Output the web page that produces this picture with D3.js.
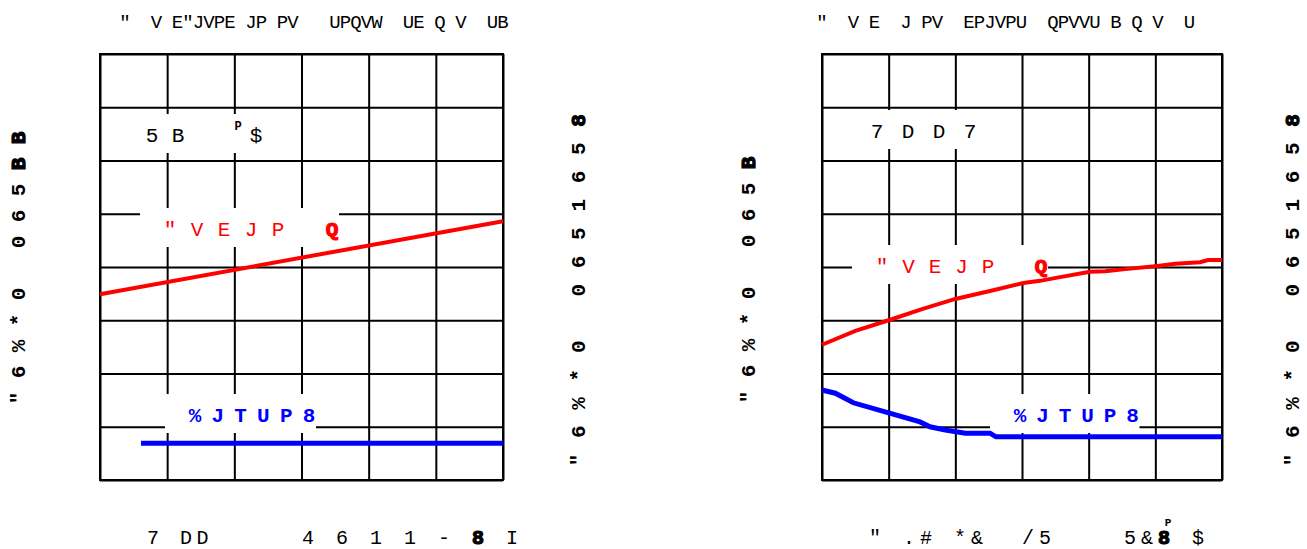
<!DOCTYPE html>
<html><head><meta charset="utf-8">
<script src="https://cdn.jsdelivr.net/npm/d3@7"></script>
<style>body{margin:0;background:#fff;overflow:hidden} svg{display:block}</style>
</head><body>
<script>
// ---------- data ----------
const xTicks = [0, 1, 2, 3, 4, 5, 6];
const yTicks = [0, 1, 2, 3, 4, 5, 6, 7, 8];

const leftAudioX = [0, 6];
const leftAudioY = [3.49, 4.86];
const leftDistX = [0.61, 6];
const leftDistY = [0.69, 0.69];

const rightAudioX = [0, 0.5, 1.0, 1.5, 2.0, 2.52, 3.02, 3.27, 3.57, 4.02, 4.25, 4.55, 5.03, 5.3, 5.67, 5.79, 6];
const rightAudioY = [2.54, 2.80, 3.00, 3.21, 3.40, 3.55, 3.70, 3.74, 3.81, 3.91, 3.92, 3.96, 4.02, 4.06, 4.09, 4.13, 4.13];
const rightDistX = [0, 0.2, 0.47, 1.0, 1.47, 1.62, 1.85, 2.15, 2.52, 2.61, 6];
const rightDistY = [1.69, 1.63, 1.45, 1.26, 1.09, 1.0, 0.94, 0.88, 0.88, 0.81, 0.81];

// text, as rendered glyphs (one entry per character cell; "!" marks a heavy glyph)
const leftTitle  = '"  V E"JVPE JP PV   UPQVW  UE Q V  UB'.split('');
const rightTitle = '"  V E  J PV  EPJVPU  QPVVU B Q V  U'.split('');
const leftXLabelA = ['7', '', 'D', 'D'];
const leftXLabelB = ['4', '', '6', '', '1', '', '1', '', '-', '', '!8', '', 'I'];
const rightXLabel = ['"', '', '.', '#', '', '*', '&', '', '', '/', '5', '', '', '', '', '5', '&', '!8', '', '$'];
const yLabelOuterL = ['"', '6', '%', '*', '0', '', '0', '6', '5', '!B', '!B'];
const yLabelOuterR = ['"', '6', '%', '*', '0', '', '0', '6', '5', '!B'];
const yLabelInner = ['"', '6', '%', '*', '0', '', '0', '6', '5', '1', '6', '5', '!8'];
const condLeft = ['5', 'B', '', '', '$'];
const condRight = ['7', 'D', 'D', '7'];
const audioLabel = ['"', 'V', 'E', 'J', 'P', '', '!Q'];
const distLabel = ['%', 'J', 'T', 'U', 'P', '8'];

// ---------- drawing ----------
const W = 1307, H = 549;
const svg = d3.select('body').append('svg').attr('width', W).attr('height', H);
const FONT = '"Liberation Mono", "DejaVu Sans Mono", monospace';

function cells(g, arr, x0, y, step, opts = {}) {
  arr.forEach((s, i) => {
    if (!s || s === ' ') return;
    const heavy = s[0] === '!';
    const ch = heavy ? s.slice(1) : s;
    g.append('text').attr('x', x0 + i * step).attr('y', y)
      .attr('text-anchor', 'middle')
      .attr('font-family', FONT)
      .attr('font-size', opts.size || 20)
      .attr('font-weight', heavy ? 'bold' : (opts.weight || 'normal'))
      .attr('fill', opts.color || '#000')
      .attr('stroke', heavy ? (opts.color || '#000') : 'none')
      .attr('stroke-width', heavy ? 1.2 : 0)
      .text(ch);
  });
}
function vcells(arr, cx, y0, step) {
  const g = svg.append('g').attr('transform', `translate(${cx + 7},${y0}) rotate(-90)`);
  cells(g, arr, 0, 0, step, {size: 21, weight: 'bold'});
}
function labelBox(g, arr, x0, base, step) {
  const n = arr.length;
  g.append('rect').attr('x', x0 - 30).attr('y', base - 28)
    .attr('width', (n - 1) * step + 37).attr('height', 39).attr('fill', '#fff');
}

function panel(px0, px1, audioX, audioY, distX, distY, cfg) {
  const x = d3.scaleLinear().domain([0, 6]).range([px0, px1]);
  const y = d3.scaleLinear().domain([0, 8]).range([480, 54]);
  const g = svg.append('g');
  const gx = g.append('g').attr('transform', 'translate(0,480)')
    .call(d3.axisBottom(x).tickValues(xTicks).tickSize(-(480 - 54)).tickFormat(''));
  const gy = g.append('g').attr('transform', `translate(${px0},0)`)
    .call(d3.axisLeft(y).tickValues(yTicks).tickSize(-(px1 - px0)).tickFormat(''));
  [gx, gy].forEach(a => {
    a.selectAll('line').attr('stroke', '#000').attr('stroke-width', 2);
    a.select('.domain').remove();
  });
  g.append('rect').attr('x', px0).attr('y', 54).attr('width', px1 - px0).attr('height', 426)
    .attr('fill', 'none').attr('stroke', '#000').attr('stroke-width', 2);

  labelBox(g, cfg.cond, cfg.condX, cfg.condY, cfg.condStep);
  labelBox(g, audioLabel, cfg.audioX, cfg.audioY, cfg.audioStep);
  labelBox(g, distLabel, cfg.distX, cfg.distY, cfg.distStep);

  const line = d3.line().x(d => x(d[0])).y(d => y(d[1]));
  g.append('path').datum(d3.zip(audioX, audioY)).attr('d', line)
    .attr('fill', 'none').attr('stroke', '#ff0000').attr('stroke-width', 4);
  g.append('path').datum(d3.zip(distX, distY)).attr('d', line)
    .attr('fill', 'none').attr('stroke', '#0000ff').attr('stroke-width', 5);

  cells(g, cfg.cond, cfg.condX, cfg.condY, cfg.condStep, {size: 21});
  cells(g, audioLabel, cfg.audioX, cfg.audioY, cfg.audioStep, {size: 21, color: '#ff0000'});
  cells(g, distLabel, cfg.distX, cfg.distY, cfg.distStep, {size: 21, color: '#0000ff', weight: 'bold'});
}

panel(100, 503, leftAudioX, leftAudioY, leftDistX, leftDistY, {
  cond: condLeft, condX: 152, condY: 142, condStep: 26,
  audioX: 170, audioY: 236, audioStep: 27,
  distX: 195, distY: 422, distStep: 22.8
});
panel(822, 1222, rightAudioX, rightAudioY, rightDistX, rightDistY, {
  cond: condRight, condX: 877, condY: 138, condStep: 31,
  audioX: 882, audioY: 273, audioStep: 26.5,
  distX: 1020, distY: 422, distStep: 22.5
});
// superscript in left condition label
svg.append('text').attr('x', 238).attr('y', 130).attr('text-anchor', 'middle')
  .attr('font-family', FONT).attr('font-size', 12).attr('font-weight', 'bold').text('P');

// titles
cells(svg, leftTitle, 125, 28, 10.5, {size: 19});
cells(svg, rightTitle, 822, 28, 10.5, {size: 19});

// x labels
cells(svg, leftXLabelA, 153, 544, 16.5, {size: 20});
cells(svg, leftXLabelB, 308, 544, 17, {size: 20});
cells(svg, rightXLabel, 875, 544, 17, {size: 20});
svg.append('text').attr('x', 1168).attr('y', 526).attr('text-anchor', 'middle')
  .attr('font-family', FONT).attr('font-size', 11).attr('font-weight', 'bold').text('P');

// y labels
vcells(yLabelOuterL, 18, 398, 26);
vcells(yLabelInner, 578, 460, 28.3);
vcells(yLabelOuterR, 748, 397, 26);
vcells(yLabelInner, 1292, 460, 28.3);
</script>
</body></html>
